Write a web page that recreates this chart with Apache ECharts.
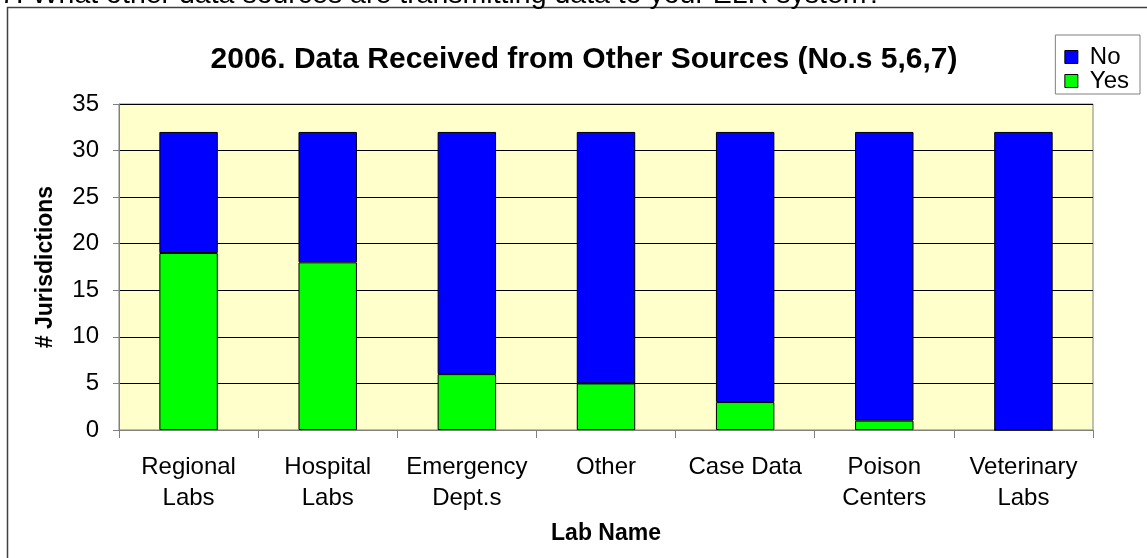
<!DOCTYPE html>
<html><head><meta charset="utf-8">
<script src="https://cdn.jsdelivr.net/npm/echarts@6/dist/echarts.min.js"></script>
<style>html,body{margin:0;padding:0;background:#fff;}#c{width:1147px;height:558px;}</style>
</head><body><div id="c"></div>
<script>
var categories = ['Regional\nLabs','Hospital\nLabs','Emergency\nDept.s','Other','Case Data','Poison\nCenters','Veterinary\nLabs'];
var yesValues = [19,18,6,5,3,1,0];
var noValues = [13,14,26,27,29,31,32];
var titleText = '2006. Data Received from Other Sources (No.s 5,6,7)';
var questionText = '7. What other data sources are transmitting data to your ELR system?';
var F = 'Liberation Sans, Arial, sans-serif';
var chart = echarts.init(document.getElementById('c'));
chart.setOption({
  animation:false,
  backgroundColor:'#fff',
  graphic:[
    {type:'text', x:0, y:-5, style:{text:questionText, font:'28.5px '+F, fill:'#000', verticalAlign:'middle'}},
    {type:'rect', shape:{x:7.5,y:7.5,width:1160,height:570}, style:{fill:'none', stroke:'#404040', lineWidth:1.5}, z:-1}
  ],
  title:{text:titleText, left:579, textAlign:'center', top:40, textStyle:{fontFamily:F, fontSize:30, fontWeight:'bold', color:'#000'}},
  legend:{data:['No','Yes'], orient:'vertical', right:7, top:35, itemWidth:13, itemHeight:13, itemGap:0, icon:'rect',
    borderColor:'#808080', borderWidth:1, padding:[10,11,1,9], backgroundColor:'#fff',
    textStyle:{fontFamily:F, fontSize:24, lineHeight:23, color:'#000', padding:[0,0,0,7]},
    itemStyle:{borderColor:'#000', borderWidth:1}},
  grid:{left:119, right:54, top:104, bottom:128, show:true, backgroundColor:'#FFFFCC', borderColor:'#808080', borderWidth:1, containLabel:false},
  xAxis:{type:'category', data:categories, name:'Lab Name', nameLocation:'middle', nameGap:92,
    nameTextStyle:{fontFamily:F, fontSize:23, fontWeight:'bold', color:'#000'},
    axisLine:{lineStyle:{color:'#808080', width:1}}, axisTick:{show:true, length:8, lineStyle:{color:'#808080'}, alignWithLabel:false},
    axisLabel:{fontFamily:F, fontSize:24, color:'#000', margin:22, lineHeight:31, interval:0}},
  yAxis:{type:'value', min:0, max:35, interval:5, name:'# Jurisdictions', nameLocation:'middle', nameGap:62,
    nameTextStyle:{fontFamily:F, fontSize:23, fontWeight:'bold', color:'#000'},
    axisLine:{show:true, lineStyle:{color:'#808080'}}, axisTick:{show:true, length:6, lineStyle:{color:'#808080'}},
    axisLabel:{fontFamily:F, fontSize:24, color:'#000', margin:20},
    splitLine:{lineStyle:{color:'#000', width:1}}},
  series:[
    {name:'Yes', type:'bar', stack:'t', data:yesValues, barWidth:'42%', itemStyle:{color:'#00FF00', borderColor:'#000', borderWidth:1}},
    {name:'No', type:'bar', stack:'t', data:noValues, barWidth:'42%', itemStyle:{color:'#0000FF', borderColor:'#000', borderWidth:1}}
  ]
});
</script></body></html>
